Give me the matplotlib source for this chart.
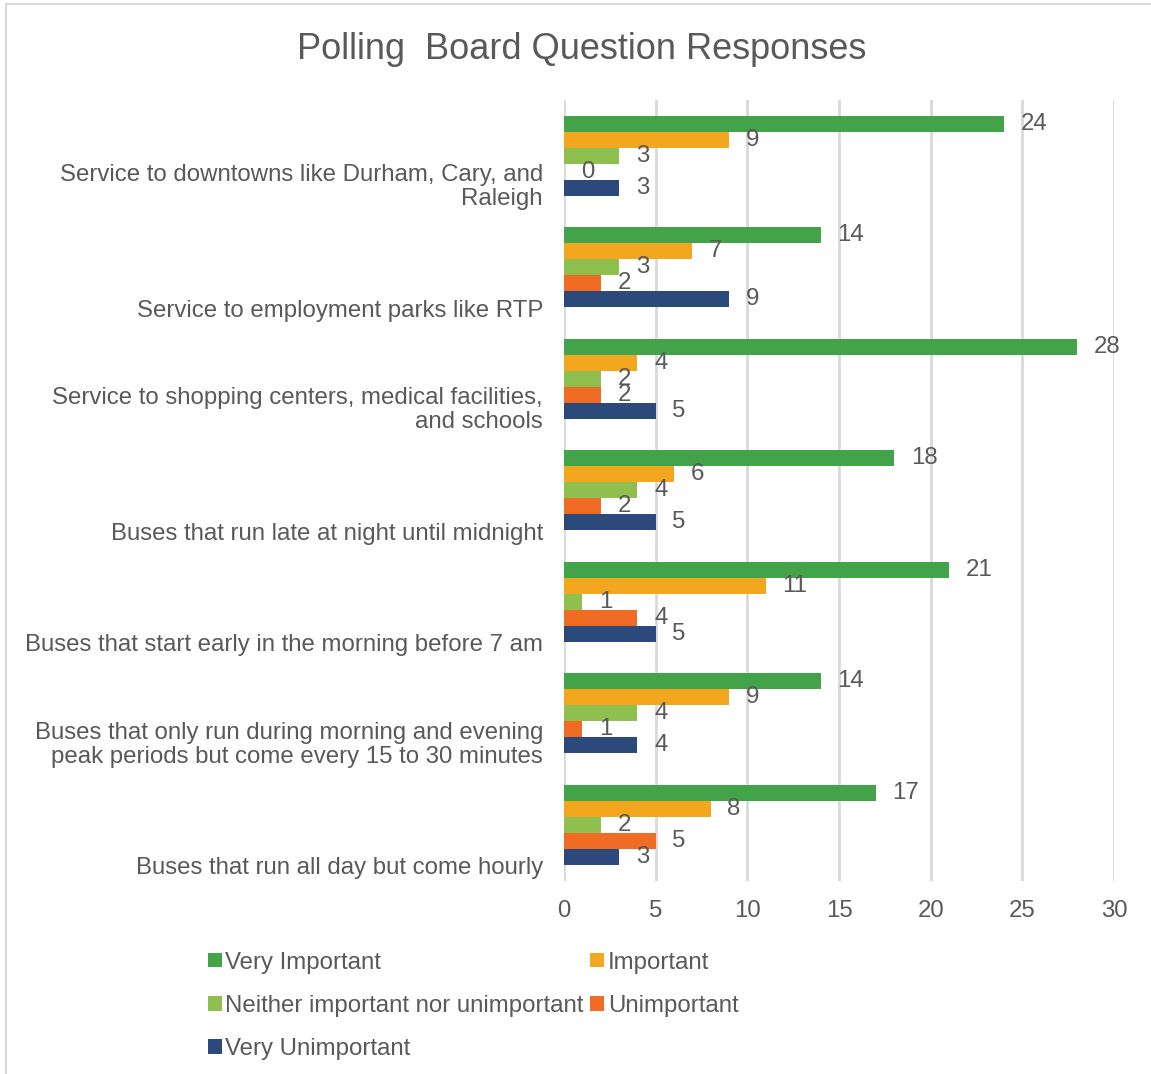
import numpy as np
import matplotlib.pyplot as plt
from matplotlib.patches import Patch
from matplotlib.lines import Line2D

plt.rcParams['font.family'] = ['Liberation Sans', 'DejaVu Sans']

# Survey questions (top to bottom) and the count for each response
questions = [
    "Service to downtowns like Durham, Cary, and\nRaleigh",
    "Service to employment parks like RTP",
    "Service to shopping centers, medical facilities,\nand schools",
    "Buses that run late at night until midnight",
    "Buses that start early in the morning before 7 am",
    "Buses that only run during morning and evening\npeak periods but come every 15 to 30 minutes",
    "Buses that run all day but come hourly",
]
responses = ["Very Important", "Important", "Neither important nor unimportant",
             "Unimportant", "Very Unimportant"]
very_important = [24, 14, 28, 18, 21, 14, 17]
important = [9, 7, 4, 6, 11, 9, 8]
neither = [3, 3, 2, 4, 1, 4, 2]
unimportant = [0, 2, 2, 2, 4, 1, 5]
very_unimportant = [3, 9, 5, 5, 5, 4, 3]
series = [very_important, important, neither, unimportant, very_unimportant]
colors = ["#43A348", "#F2A71E", "#8FBF4F", "#F06C24", "#2B4A7B"]

text_color = "#595959"
grid_color = "#D9D9D9"
fs = 17.3

fig = plt.figure(figsize=(11.51, 10.74), dpi=100)
ax = fig.add_axes([0.490, 0.180, 0.478, 0.727])

bar_h = 0.143
y = np.arange(len(questions))
for k, (vals, col) in enumerate(zip(series, colors)):
    pos = y + (k - 2) * bar_h
    ax.barh(pos, vals, height=bar_h, color=col, zorder=3)
    for p, v in zip(pos, vals):
        ax.annotate(str(v), (v, p), xytext=(12, 0), textcoords="offset points",
                    va="center", ha="left", fontsize=fs, color=text_color, zorder=4)

ax.set_xlim(0, 30)
ax.set_ylim(len(questions) - 0.5, -0.5)
ax.set_xticks(range(0, 31, 5))
ax.tick_params(axis="x", length=0, pad=14, labelsize=fs, labelcolor=text_color)
ax.set_yticks([])
ax.grid(axis="x", color=grid_color, linewidth=2, zorder=0)
for s in ax.spines.values():
    s.set_visible(False)

# category labels sit on the lower edge of each bar group
for i, q in enumerate(questions):
    ax.text(-1.15, i + 2.5 * bar_h + 0.13, q, ha="right", va="bottom",
            fontsize=fs, color=text_color, linespacing=1.12)

fig.text(0.505, 0.954, "Polling  Board Question Responses", ha="center", va="center",
         fontsize=26, color=text_color)

handles = [Patch(facecolor=c, edgecolor="none") for c in colors]
order = [0, 2, 4, 1, 3]
fig.legend([handles[i] for i in order], [responses[i] for i in order],
           ncol=2, loc="upper left", bbox_to_anchor=(0.172, 0.123),
           frameon=False, fontsize=fs, labelcolor=text_color,
           handlelength=0.58, handleheight=0.58, handletextpad=0.15,
           columnspacing=0.28, labelspacing=0.88, borderaxespad=0)

# thin chart frame along the top and left edges
fig.add_artist(Line2D([0.005, 1.0], [0.9965, 0.9965], color=grid_color, lw=1.5))
fig.add_artist(Line2D([0.0055, 0.0055], [0.0, 0.9965], color=grid_color, lw=1.5))

fig.savefig("out.png", dpi=100)
